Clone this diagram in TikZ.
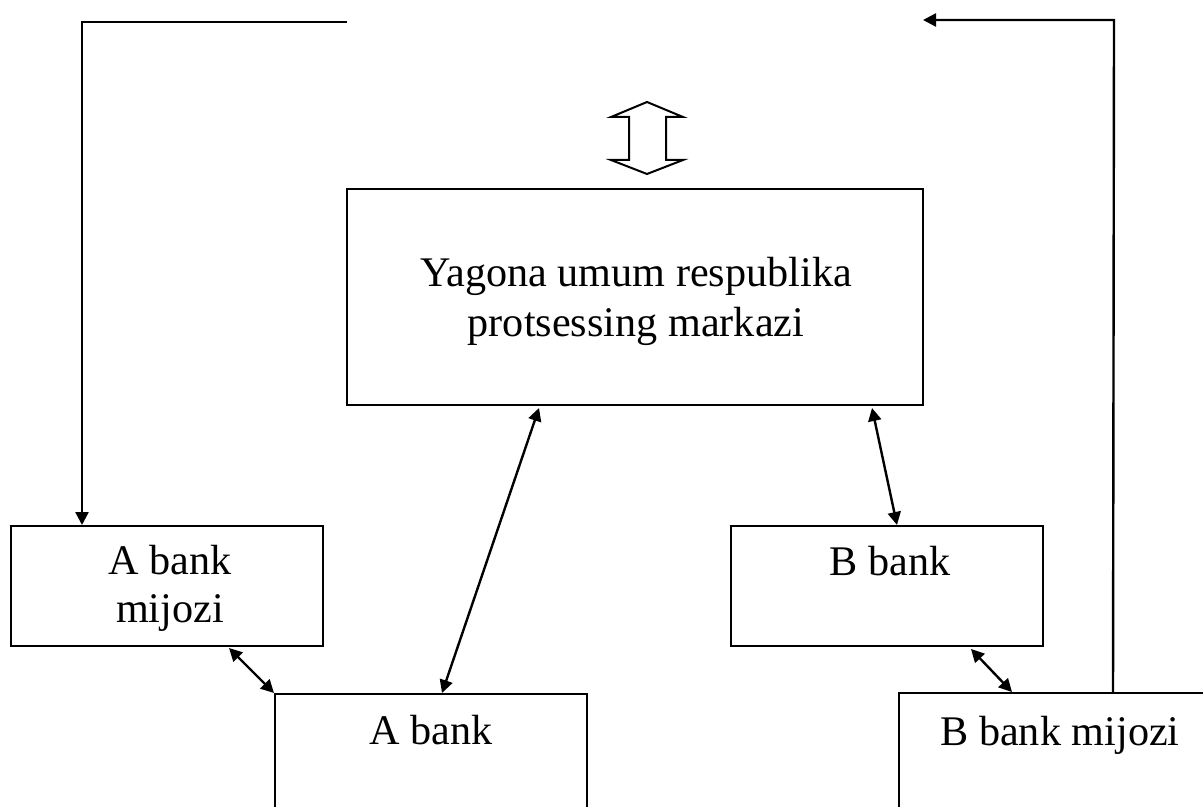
\documentclass[tikz,border=0pt]{standalone}
\usepackage{fontspec}
\setmainfont{Liberation Serif}
\usetikzlibrary{arrows.meta,calc}

\tikzset{
  box/.style={draw, line width=1pt, rectangle, inner sep=0pt},
  lbl/.style={anchor=base, inner sep=0pt, font=\fontsize{21.1}{25}\selectfont},
  link/.style={line width=1.2pt, {Triangle[length=6.5pt,width=6.5pt]}-{Triangle[length=6.5pt,width=6.5pt]}},
  oneway/.style={line width=1.2pt, line join=miter, -{Triangle[length=6.5pt,width=6.5pt]}},
}

\begin{document}
\begin{tikzpicture}[x=0.5pt,y=-0.5pt]
\useasboundingbox (0,0) rectangle (1203,807);
\clip (0,0) rectangle (1203,807);

% boxes
\node[box, minimum width=288pt, minimum height=108pt] (main) at (635,297) {};
\node[box, minimum width=156pt, minimum height=60pt] (amij) at (167,586) {};
\node[box, minimum width=156pt, minimum height=60pt] (bbank) at (887,586) {};
\node[box, minimum width=156pt, minimum height=103pt] (abank) at (431,797) {};
\node[box, minimum width=161pt, minimum height=103.5pt] (bmij) at (1060,796.5) {};

% texts
\node[lbl] (maint1) at (636,287) {Yagona umum respublika};
\node[lbl] (maint2) at (636,336) {protsessing markazi};
\node[lbl] (amijt1) at (170,574) {A bank};
\node[lbl] (amijt2) at (170,622) {mijozi};
\node[lbl] (bbankt) at (890,575) {B bank};
\node[lbl] (abankt) at (431,744) {A bank};
\node[lbl] (bmijt) at (1060,745) {B bank mijozi};

% hollow up-down arrow above the centre
\draw[line width=1pt, line join=miter]
  (647,102) -- (683,117) -- (666,117) -- (666,160) -- (683,160) -- (647,174)
  -- (611,160) -- (629,160) -- (629,117) -- (611,117) -- cycle;

% top routes
\coordinate (tl) at (82,22);
\coordinate (tlend) at (347,22);
\coordinate (tr) at (1114,20);
\coordinate (trend) at (923,20);
\draw[oneway] (tlend) -- (tl) -- (tl |- amij.north);
\draw[oneway] ($(bmij.north west)+(215,0)$) -- (tr) -- (trend);

% two-way links
\draw[link] ($(main.south west)+(193,2)$) -- ($(abank.north west)+(168,0)$);
\draw[link] ($(main.south west)+(526,2)$) -- ($(bbank.north west)+(167,0)$);
\draw[link] ($(amij.south west)+(219,1)$) -- (abank.north west);
\draw[link] ($(bbank.south west)+(241,2)$) -- ($(bmij.north west)+(114,0)$);
\end{tikzpicture}
\end{document}
